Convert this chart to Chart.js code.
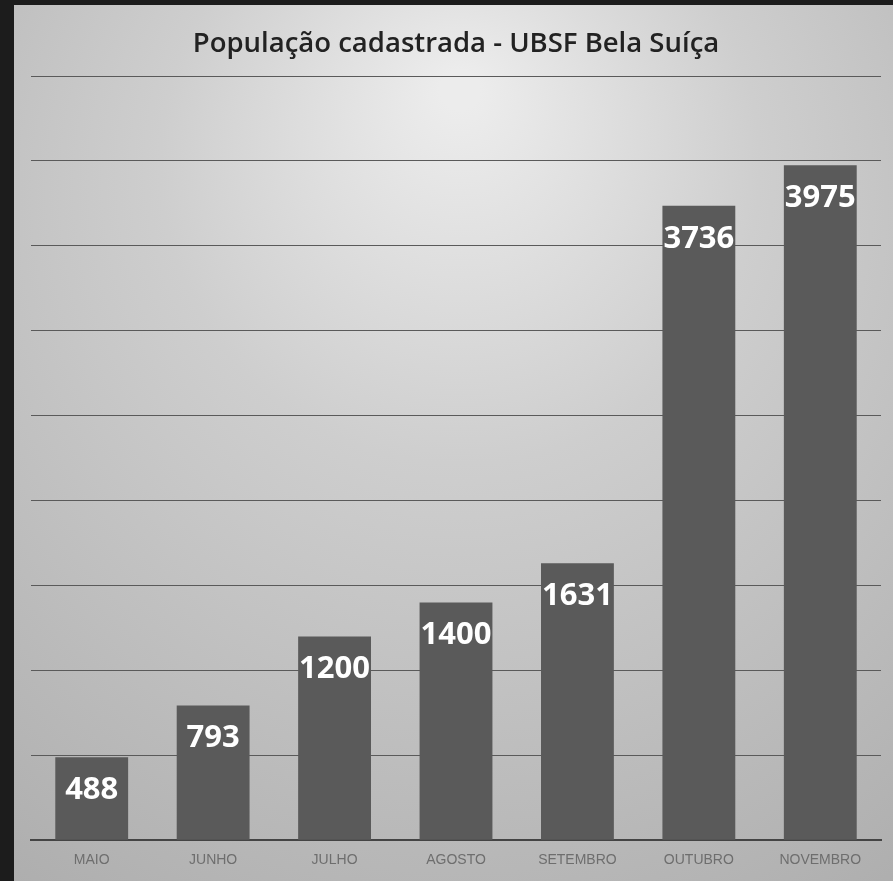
<!DOCTYPE html>
<html>
<head>
<meta charset="utf-8">
<script src="https://cdn.jsdelivr.net/npm/chart.js@4"></script>
<style>
  html, body { margin: 0; padding: 0; background: #1c1c1c; }
  #wrap { width: 893px; height: 881px; }
</style>
</head>
<body>
<div id="wrap"><canvas id="chart"></canvas></div>
<script>
// Chart data
const months = ['MAIO', 'JUNHO', 'JULHO', 'AGOSTO', 'SETEMBRO', 'OUTUBRO', 'NOVEMBRO'];
const population = [488, 793, 1200, 1400, 1631, 3736, 3975];
const yMax = 4500;
const yStep = 500;

// Projected-slide look: dark frame + uneven light backdrop
const backdrop = {
  id: 'backdrop',
  beforeDraw(chart) {
    const { ctx, width, height } = chart;
    ctx.save();
    ctx.fillStyle = '#1c1c1c';
    ctx.fillRect(0, 0, width, height);
    const g = ctx.createRadialGradient(460, 90, 20, 460, 300, 820);
    g.addColorStop(0, '#ececec');
    g.addColorStop(0.35, '#cecece');
    g.addColorStop(1, '#a9a9a9');
    ctx.fillStyle = g;
    ctx.fillRect(14, 5, width - 14, height - 5);
    ctx.restore();
  }
};

// White value labels inside the top of each bar
const valueLabels = {
  id: 'valueLabels',
  afterDatasetsDraw(chart) {
    const { ctx } = chart;
    const meta = chart.getDatasetMeta(0);
    ctx.save();
    ctx.fillStyle = '#ffffff';
    ctx.font = 'bold 31px "Open Sans", sans-serif';
    ctx.textAlign = 'center';
    ctx.textBaseline = 'middle';
    meta.data.forEach((bar, i) => {
      ctx.fillText(String(population[i]), bar.x, bar.y + 33);
    });
    ctx.restore();
  }
};

new Chart(document.getElementById('chart'), {
  type: 'bar',
  data: {
    labels: months,
    datasets: [{
      data: population,
      backgroundColor: '#5a5a5a',
      borderWidth: 0,
      barPercentage: 0.6,
      categoryPercentage: 1.0
    }]
  },
  options: {
    responsive: true,
    maintainAspectRatio: false,
    animation: false,
    layout: { padding: { left: 31, right: 12, bottom: 0 } },
    plugins: {
      legend: { display: false },
      tooltip: { enabled: false },
      title: {
        display: true,
        text: 'População cadastrada - UBSF Bela Suíça',
        color: '#222222',
        font: { family: '"Open Sans", sans-serif', size: 27.5, weight: '600' },
        padding: { top: 28, bottom: 15 }
      }
    },
    scales: {
      x: {
        grid: { display: false, drawTicks: false },
        border: { display: true, color: '#444444', width: 2 },
        ticks: {
          color: '#6e6e6e',
          font: { family: '"Liberation Sans Narrow", "Liberation Sans", sans-serif', size: 14 },
          padding: 12
        }
      },
      y: {
        min: 0,
        max: yMax,
        ticks: { display: false, stepSize: yStep },
        grid: { color: '#5a5a5a', lineWidth: 1, drawTicks: false },
        border: { display: false }
      }
    }
  },
  plugins: [backdrop, valueLabels]
});
</script>
</body>
</html>
